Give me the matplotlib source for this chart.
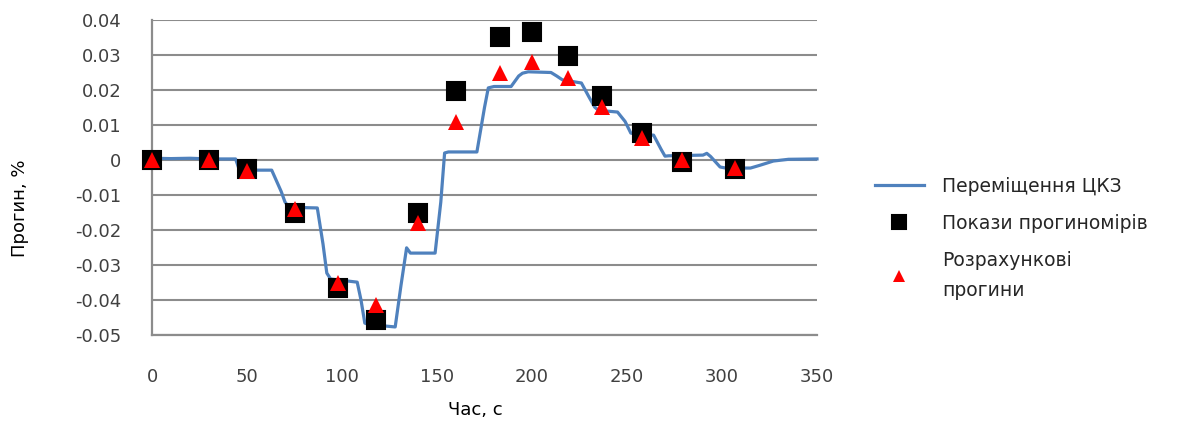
import matplotlib
matplotlib.use("Agg")
import matplotlib.pyplot as plt
from matplotlib.ticker import FixedLocator

# ---- data ----
line_t = [0, 10, 20, 30, 44, 46, 63, 68, 70, 72, 87, 90, 92, 94, 108, 110, 112, 114,
          128, 131, 134, 136, 149, 152, 154, 156, 171, 175, 177, 180, 189, 193, 195, 198,
          210, 213, 216, 226, 230, 233, 235, 245, 249, 252, 255, 264, 268, 270, 272, 290,
          292, 294, 299, 302, 315, 320, 327, 335, 350]
line_y = [0.0005, 0.0004, 0.0005, 0.0003, 0.0003, -0.0029, -0.0029, -0.009, -0.012, -0.0135,
          -0.0137, -0.024, -0.0323, -0.034, -0.0349, -0.040, -0.0466, -0.047,
          -0.0477, -0.036, -0.0251, -0.0266, -0.0266, -0.012, 0.0020, 0.0023, 0.0023, 0.015,
          0.0206, 0.0210, 0.0210, 0.0240, 0.0248, 0.0252, 0.0250, 0.0240, 0.0229, 0.0220,
          0.0180, 0.0151, 0.0142, 0.0137, 0.0110, 0.0077, 0.0073, 0.0071, 0.0030, 0.0011,
          0.0012, 0.0014, 0.0019, 0.0010, -0.0020, -0.0023, -0.0023, -0.0015, -0.0003,
          0.0002, 0.0003]

meas_t = [0, 30, 50, 75, 98, 118, 140, 160, 183, 200, 219, 237, 258, 279, 307]
gauge_y = [0.0, 0.0, -0.0025, -0.015, -0.0366, -0.0457, -0.015, 0.0198, 0.035, 0.0366,
           0.0298, 0.0183, 0.0077, -0.0005, -0.0026]
calc_y = [0.0, 0.0, -0.0032, -0.014, -0.035, -0.0414, -0.018, 0.011, 0.025, 0.028,
          0.0234, 0.0151, 0.0063, 0.0, -0.0023]

y_ticks = [0.04, 0.03, 0.02, 0.01, 0, -0.01, -0.02, -0.03, -0.04, -0.05]
y_labels = ["0.04", "0.03", "0.02", "0.01", "0", "-0.01", "-0.02", "-0.03", "-0.04", "-0.05"]
x_ticks = [0, 50, 100, 150, 200, 250, 300, 350]

labels = ["Переміщення ЦКЗ", "Покази прогиномірів", "Розрахункові\nпрогини"]

# ---- figure ----
plt.rcParams['font.family'] = ['DejaVu Sans']
W, H = 1184, 428
fig = plt.figure(figsize=(W / 100, H / 100), dpi=100)
ax = fig.add_axes([152 / W, 1 - 335 / H, (817 - 152) / W, (335 - 20) / H])

grid_c = "#8c8c8c"
ax.set_xlim(0, 350)
ax.set_ylim(-0.05, 0.04)
ax.yaxis.set_major_locator(FixedLocator(y_ticks))
ax.set_yticklabels(y_labels)
ax.set_xticks(x_ticks)
ax.grid(axis="y", color=grid_c, linewidth=1.5)
ax.set_axisbelow(True)
for s in ["top", "right"]:
    ax.spines[s].set_visible(False)
for s in ["left", "bottom"]:
    ax.spines[s].set_color(grid_c)
    ax.spines[s].set_linewidth(1.6)
ax.tick_params(axis="both", length=0, labelsize=13, colors="#404040")
ax.tick_params(axis="y", pad=22)
ax.tick_params(axis="x", pad=24)

ln, = ax.plot(line_t, line_y, color="#4F81BD", linewidth=2.3, zorder=3, clip_on=False)
sq, = ax.plot(meas_t, gauge_y, linestyle="none", marker="s", markersize=12.5,
              color="black", markeredgewidth=1.5, zorder=4, clip_on=False)
sq.set_markeredgecolor("black")
tr, = ax.plot(meas_t, calc_y, linestyle="none", marker="^", markersize=11,
              color="#FF0000", markeredgewidth=0, zorder=5, clip_on=False)

fig.text(20 / W, 1 - 208 / H, "Прогин, %", rotation=90, ha="center", va="center",
         fontsize=13, color="black")
fig.text(475 / W, 1 - 410 / H, "Час, с", ha="center", va="center",
         fontsize=13, color="black")

leg = fig.legend([ln, sq, tr], labels, loc="upper left",
                 bbox_to_anchor=(858 / W, 1 - 160 / H), frameon=False,
                 fontsize=13.5, handlelength=2.6, handletextpad=1.0,
                 labelspacing=0.95, markerscale=0.8)
for t in leg.get_texts():
    t.set_color("#262626")
    t.set_linespacing(1.75)

fig.savefig("out.png", dpi=100)
